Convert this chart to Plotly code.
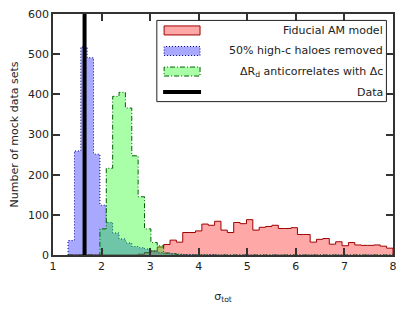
import numpy as np
import plotly.graph_objects as go

# ---- data -------------------------------------------------------------
bin_lo, bin_hi, n_bins = 1.31, 8.0, 51
edges = np.linspace(bin_lo, bin_hi, n_bins + 1)

fiducial = [0, 0, 0, 0, 0, 0, 0, 0, 0, 0,
            0, 2, 6, 10, 20, 26, 37, 32, 56, 56,
            60, 77, 74, 84, 62, 56, 81, 78, 88, 62,
            69, 71, 74, 66, 66, 68, 51, 51, 32, 39,
            41, 27, 33, 23, 31, 25, 24, 24, 25, 22,
            17]
removed = [36, 259, 518, 491, 251, 124, 81, 55, 40, 30,
           21, 18, 15, 10, 6, 4, 3, 2, 1, 1,
           1, 0, 1, 0, 0, 0, 0, 0, 0, 0,
           0, 0, 0, 0, 0, 0, 0, 0, 0, 0,
           0, 0, 0, 0, 0, 0, 0, 0, 0, 0,
           0]
anticorr = [0, 0, 0, 0, 0, 65, 216, 395, 405, 366,
            247, 145, 65, 31, 23, 5, 3, 1, 0, 0,
            0, 0, 0, 0, 0, 0, 0, 0, 0, 0,
            0, 0, 0, 0, 0, 0, 0, 0, 0, 0,
            0, 0, 0, 0, 0, 0, 0, 0, 0, 0,
            0]
data_sigma = 1.65

x_ticks = [1, 2, 3, 4, 5, 6, 7, 8]
y_ticks = [0, 100, 200, 300, 400, 500, 600]

series_names = ["Fiducial AM model", "50% high-c haloes removed",
                "ΔR<sub>d</sub> anticorrelates with Δc", "Data"]

# ---- styles -----------------------------------------------------------
styles = [
    dict(fill="rgba(255,0,0,0.34)", line="#a00000", dash="solid"),
    dict(fill="rgba(0,0,255,0.34)", line="#00008b", dash="1px,2px"),
    dict(fill="rgba(0,255,0,0.34)", line="#006400", dash="5px,2px,1px,2px"),
]

FONT = "DejaVu Sans"

# the page body has an 8px margin; figure coordinates are offset by it
OFF = 8
FIG_W, FIG_H = 415 - 2 * OFF, 312 - 2 * OFF
L, R, T, B = 52.7 - OFF, 393.3 - OFF, 14.3 - OFF, 254.7 - OFF
W, H = R - L, B - T


def step_xy(vals):
    xs = [edges[0]] + list(edges[:-1]) + [edges[-1]]
    ys = [0] + list(vals) + [0]
    return xs, ys


fig = go.Figure()
for vals, st in zip([fiducial, removed, anticorr], styles):
    xs, ys = step_xy(vals)
    fig.add_trace(go.Scatter(
        x=xs, y=ys, mode="lines", line_shape="hv",
        fill="tozeroy", fillcolor=st["fill"],
        line=dict(color=st["line"], width=1, dash=st["dash"]),
        showlegend=False, hoverinfo="skip"))

fig.add_trace(go.Scatter(
    x=[data_sigma, data_sigma], y=[y_ticks[0], y_ticks[-1]],
    mode="lines", line=dict(color="black", width=4),
    showlegend=False, hoverinfo="skip"))


# ---- manual legend (paper coordinates, from screen pixels) -------------
def px(x):
    return (x - OFF - L) / W


def py(y):
    return (B - (y - OFF)) / H


shapes = [dict(type="rect", xref="paper", yref="paper",
               x0=px(156.7), x1=px(386.7), y0=py(101.7), y1=py(20.7),
               line=dict(color="#222", width=1), fillcolor="white",
               layer="above")]
rows = [30.7, 51.2, 71.7, 92.2]
for i, st in enumerate(styles):
    shapes.append(dict(type="rect", xref="paper", yref="paper",
                       x0=px(164), x1=px(200),
                       y0=py(rows[i] + 4.5), y1=py(rows[i] - 4.5),
                       line=dict(color=st["line"], width=1, dash=st["dash"]),
                       fillcolor=st["fill"], layer="above"))
shapes.append(dict(type="line", xref="paper", yref="paper",
                   x0=px(163), x1=px(201), y0=py(rows[3]), y1=py(rows[3]),
                   line=dict(color="black", width=4), layer="above"))

annotations = []
for i, name in enumerate(series_names):
    annotations.append(dict(
        text=name, xref="paper", yref="paper", x=px(385), y=py(rows[i]),
        xanchor="right", yanchor="middle", showarrow=False,
        font=dict(family=FONT, size=11, color="#222")))

axis_common = dict(showline=True, linecolor="#333", linewidth=1.5,
                   mirror="ticks", ticks="inside", ticklen=7,
                   tickcolor="#333", tickwidth=1.5, showgrid=False,
                   zeroline=False, automargin=False,
                   ticklabeloverflow="allow",
                   tickfont=dict(family=FONT, size=11, color="#222"))

fig.update_layout(
    width=FIG_W, height=FIG_H,
    margin=dict(l=L, r=FIG_W - R, t=T, b=FIG_H - B),
    paper_bgcolor="white", plot_bgcolor="white",
    xaxis=dict(range=[1, 8], tickvals=x_ticks,
               title=dict(text="σ<sub>tot</sub>", standoff=20,
                          font=dict(family=FONT, size=11, color="#222")),
               **axis_common),
    yaxis=dict(range=[0, 600], tickvals=y_ticks,
               title=dict(text="Number of mock data sets", standoff=8,
                          font=dict(family=FONT, size=11, color="#222")),
               **axis_common),
    shapes=shapes, annotations=annotations,
)

fig.write_html("out.html")
